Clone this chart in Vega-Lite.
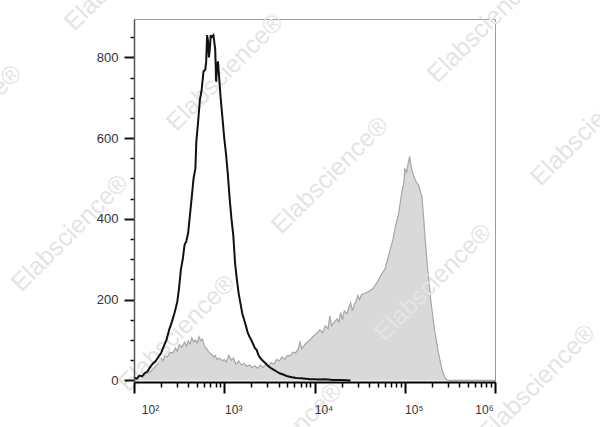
{
  "$schema": "https://vega.github.io/schema/vega-lite/v6.json",
  "width": 361,
  "height": 363,
  "autosize": {"type": "none"},
  "padding": {"left": 134, "top": 19, "right": 105, "bottom": 45},
  "background": "white",
  "config": {"view": {"stroke": "#9a9a9a", "strokeWidth": 1}, "font": "Liberation Sans"},
  "datasets": {
    "stained": [
      {"x": 100, "n": 0}, {"x": 110, "n": 5}, {"x": 120, "n": 10}, {"x": 132, "n": 14}, {"x": 145, "n": 18},
      {"x": 158, "n": 25}, {"x": 174, "n": 35}, {"x": 186, "n": 42}, {"x": 200, "n": 55}, {"x": 209, "n": 48},
      {"x": 219, "n": 62}, {"x": 234, "n": 58}, {"x": 251, "n": 70}, {"x": 269, "n": 68}, {"x": 288, "n": 80},
      {"x": 302, "n": 72}, {"x": 316, "n": 88}, {"x": 339, "n": 82}, {"x": 363, "n": 95}, {"x": 380, "n": 85},
      {"x": 398, "n": 98}, {"x": 417, "n": 90}, {"x": 437, "n": 105}, {"x": 457, "n": 95}, {"x": 479, "n": 100},
      {"x": 501, "n": 92}, {"x": 525, "n": 108}, {"x": 550, "n": 98}, {"x": 575, "n": 102}, {"x": 603, "n": 85},
      {"x": 631, "n": 80}, {"x": 676, "n": 70}, {"x": 724, "n": 65}, {"x": 759, "n": 58}, {"x": 794, "n": 62},
      {"x": 832, "n": 52}, {"x": 891, "n": 55}, {"x": 955, "n": 48}, {"x": 1000, "n": 52}, {"x": 1047, "n": 45},
      {"x": 1122, "n": 62}, {"x": 1202, "n": 50}, {"x": 1259, "n": 55}, {"x": 1349, "n": 40}, {"x": 1445, "n": 48},
      {"x": 1549, "n": 38}, {"x": 1660, "n": 42}, {"x": 1778, "n": 35}, {"x": 1905, "n": 38}, {"x": 2042, "n": 32},
      {"x": 2188, "n": 36}, {"x": 2344, "n": 30}, {"x": 2512, "n": 38}, {"x": 2692, "n": 32}, {"x": 2884, "n": 40},
      {"x": 3090, "n": 35}, {"x": 3311, "n": 44}, {"x": 3548, "n": 40}, {"x": 3802, "n": 52}, {"x": 4074, "n": 48},
      {"x": 4365, "n": 58}, {"x": 4677, "n": 52}, {"x": 5012, "n": 62}, {"x": 5370, "n": 60}, {"x": 5754, "n": 70},
      {"x": 6166, "n": 68}, {"x": 6607, "n": 78}, {"x": 6918, "n": 95}, {"x": 7244, "n": 78}, {"x": 7762, "n": 88},
      {"x": 8318, "n": 95}, {"x": 8913, "n": 100}, {"x": 9550, "n": 108}, {"x": 10000, "n": 112}, {"x": 10720, "n": 118},
      {"x": 11480, "n": 125}, {"x": 12300, "n": 118}, {"x": 13180, "n": 135}, {"x": 14130, "n": 128}, {"x": 14790, "n": 160},
      {"x": 15490, "n": 135}, {"x": 16600, "n": 145}, {"x": 17780, "n": 152}, {"x": 18620, "n": 145}, {"x": 19500, "n": 168},
      {"x": 20420, "n": 150}, {"x": 21380, "n": 172}, {"x": 22910, "n": 165}, {"x": 23990, "n": 180}, {"x": 25120, "n": 192},
      {"x": 26300, "n": 172}, {"x": 27540, "n": 188}, {"x": 28840, "n": 195}, {"x": 30200, "n": 210}, {"x": 31620, "n": 200},
      {"x": 33110, "n": 212}, {"x": 35480, "n": 215}, {"x": 39810, "n": 220}, {"x": 44670, "n": 228}, {"x": 50120, "n": 245},
      {"x": 54950, "n": 262}, {"x": 60260, "n": 275}, {"x": 64570, "n": 300}, {"x": 69180, "n": 325}, {"x": 74130, "n": 350},
      {"x": 79430, "n": 385}, {"x": 85110, "n": 410}, {"x": 89130, "n": 440}, {"x": 93330, "n": 470}, {"x": 97720, "n": 490},
      {"x": 100000, "n": 525}, {"x": 104700, "n": 515}, {"x": 109600, "n": 540}, {"x": 113500, "n": 555}, {"x": 117500, "n": 530},
      {"x": 123000, "n": 512}, {"x": 128800, "n": 500}, {"x": 134900, "n": 490}, {"x": 141300, "n": 485}, {"x": 147900, "n": 470},
      {"x": 154900, "n": 455}, {"x": 162200, "n": 400}, {"x": 169800, "n": 340}, {"x": 177800, "n": 285}, {"x": 186200, "n": 240},
      {"x": 195000, "n": 195}, {"x": 204200, "n": 160}, {"x": 213800, "n": 125}, {"x": 223900, "n": 100}, {"x": 234400, "n": 72},
      {"x": 245500, "n": 50}, {"x": 257000, "n": 30}, {"x": 269200, "n": 15}, {"x": 281800, "n": 6}, {"x": 295100, "n": 1},
      {"x": 309000, "n": 0}, {"x": 1000000, "n": 0}
    ],
    "control": [
      {"x": 100, "n": 8}, {"x": 107, "n": 4}, {"x": 115, "n": 12}, {"x": 123, "n": 10}, {"x": 132, "n": 18},
      {"x": 141, "n": 22}, {"x": 151, "n": 33}, {"x": 162, "n": 42}, {"x": 174, "n": 48}, {"x": 186, "n": 58},
      {"x": 200, "n": 68}, {"x": 214, "n": 85}, {"x": 229, "n": 100}, {"x": 245, "n": 125}, {"x": 263, "n": 145},
      {"x": 282, "n": 168}, {"x": 302, "n": 195}, {"x": 316, "n": 230}, {"x": 331, "n": 275}, {"x": 347, "n": 300},
      {"x": 363, "n": 335}, {"x": 380, "n": 345}, {"x": 398, "n": 365}, {"x": 417, "n": 410}, {"x": 437, "n": 455},
      {"x": 457, "n": 500}, {"x": 479, "n": 525}, {"x": 490, "n": 590}, {"x": 513, "n": 640}, {"x": 537, "n": 695},
      {"x": 562, "n": 720}, {"x": 589, "n": 765}, {"x": 617, "n": 770}, {"x": 631, "n": 790}, {"x": 646, "n": 855},
      {"x": 661, "n": 840}, {"x": 676, "n": 800}, {"x": 692, "n": 820}, {"x": 708, "n": 855}, {"x": 724, "n": 850},
      {"x": 759, "n": 855}, {"x": 794, "n": 820}, {"x": 813, "n": 740}, {"x": 832, "n": 775}, {"x": 851, "n": 790},
      {"x": 871, "n": 760}, {"x": 912, "n": 700}, {"x": 955, "n": 650}, {"x": 1000, "n": 600}, {"x": 1047, "n": 560},
      {"x": 1096, "n": 510}, {"x": 1148, "n": 450}, {"x": 1202, "n": 400}, {"x": 1259, "n": 360}, {"x": 1318, "n": 290},
      {"x": 1380, "n": 250}, {"x": 1445, "n": 215}, {"x": 1514, "n": 190}, {"x": 1585, "n": 165}, {"x": 1660, "n": 150},
      {"x": 1738, "n": 135}, {"x": 1820, "n": 118}, {"x": 1905, "n": 108}, {"x": 1995, "n": 100}, {"x": 2089, "n": 90},
      {"x": 2188, "n": 80}, {"x": 2291, "n": 75}, {"x": 2399, "n": 62}, {"x": 2512, "n": 55}, {"x": 2692, "n": 48},
      {"x": 2884, "n": 42}, {"x": 3090, "n": 35}, {"x": 3311, "n": 30}, {"x": 3548, "n": 26}, {"x": 3802, "n": 22},
      {"x": 4169, "n": 17}, {"x": 4571, "n": 14}, {"x": 5012, "n": 10}, {"x": 5623, "n": 8}, {"x": 6310, "n": 6},
      {"x": 7079, "n": 5}, {"x": 7943, "n": 4}, {"x": 8913, "n": 3}, {"x": 10000, "n": 3}, {"x": 11220, "n": 2},
      {"x": 12590, "n": 3}, {"x": 14130, "n": 2}, {"x": 15850, "n": 1}, {"x": 19950, "n": 1}, {"x": 25120, "n": 0}
    ],
    "watermark": [
      {"x": 75, "n": 1011, "t": "Elabscience®"},
      {"x": 1.29, "n": 637, "t": "Elabscience®"},
      {"x": 1014, "n": 763, "t": "Elabscience®"},
      {"x": 19.4, "n": 365, "t": "Elabscience®"},
      {"x": 14800, "n": 508, "t": "Elabscience®"},
      {"x": 297, "n": 117, "t": "Elabscience®"},
      {"x": 792000, "n": 882, "t": "Elabscience®"},
      {"x": 11000000, "n": 627, "t": "Elabscience®"},
      {"x": 205000, "n": 243, "t": "Elabscience®"},
      {"x": 2900000, "n": -6, "t": "Elabscience®"},
      {"x": 4570, "n": -150, "t": "Elabscience®"}
    ]
  },
  "encoding": {
    "x": {
      "field": "x",
      "type": "quantitative",
      "scale": {"type": "log", "domain": [100, 1000000], "nice": false},
      "axis": {
        "title": null,
        "grid": false,
        "zindex": 1,
        "values": [100, 200, 300, 400, 500, 600, 700, 800, 900, 1000, 2000, 3000, 4000, 5000, 6000, 7000, 8000, 9000, 10000, 20000, 30000, 40000, 50000, 60000, 70000, 80000, 90000, 100000, 200000, 300000, 400000, 500000, 600000, 700000, 800000, 900000, 1000000],
        "domainColor": "#000",
        "domainWidth": 2,
        "tickColor": "#000",
        "tickSize": {"condition": {"test": "indexof([100,1000,10000,100000,1000000], datum.value) >= 0", "value": 11}, "value": 5},
        "tickWidth": {"condition": {"test": "indexof([100,1000,10000,100000,1000000], datum.value) >= 0", "value": 2}, "value": 1.5},
        "labelExpr": "datum.value == 100 ? '10²' : datum.value == 1000 ? '10³' : datum.value == 10000 ? '10⁴' : datum.value == 100000 ? '10⁵' : datum.value == 1000000 ? '10⁶' : ''",
        "labelOverlap": false,
        "labelFlush": false,
        "labelFont": "Liberation Sans",
        "labelFontSize": 12,
        "labelColor": "#333",
        "labelPadding": 11,
        "labelOffset": {"condition": [{"test": "datum.value == 100", "value": 16}, {"test": "datum.value == 1000000", "value": -11}], "value": 9}
      }
    },
    "y": {
      "field": "n",
      "type": "quantitative",
      "scale": {"domain": [-4, 895], "nice": false, "zero": false},
      "axis": {
        "title": null,
        "grid": false,
        "zindex": 1,
        "values": [0, 50, 100, 150, 200, 250, 300, 350, 400, 450, 500, 550, 600, 650, 700, 750, 800, 850],
        "domainColor": "#555",
        "domainWidth": 1.5,
        "tickColor": "#111",
        "tickSize": {"condition": {"test": "datum.value % 200 == 0", "value": 10}, "value": 4},
        "tickWidth": {"condition": {"test": "datum.value % 200 == 0", "value": 2}, "value": 1.5},
        "labelExpr": "datum.value % 200 == 0 ? datum.label : ''",
        "labelOverlap": false,
        "labelFont": "Liberation Sans",
        "labelFontSize": 13,
        "labelColor": "#333",
        "labelPadding": 6
      }
    }
  },
  "layer": [
    {
      "data": {"name": "stained"},
      "mark": {"type": "area", "color": "#c9c9c9", "line": {"color": "#a6a6a6", "strokeWidth": 1.2}}
    },
    {
      "data": {"name": "watermark"},
      "mark": {"type": "text", "angle": -45, "fontSize": 25, "font": "Liberation Sans", "color": "#e4e4e4", "align": "center", "baseline": "middle"},
      "encoding": {"text": {"field": "t", "type": "nominal"}}
    },
    {
      "data": {"name": "control"},
      "mark": {"type": "line", "color": "#111", "strokeWidth": 2}
    }
  ]
}
